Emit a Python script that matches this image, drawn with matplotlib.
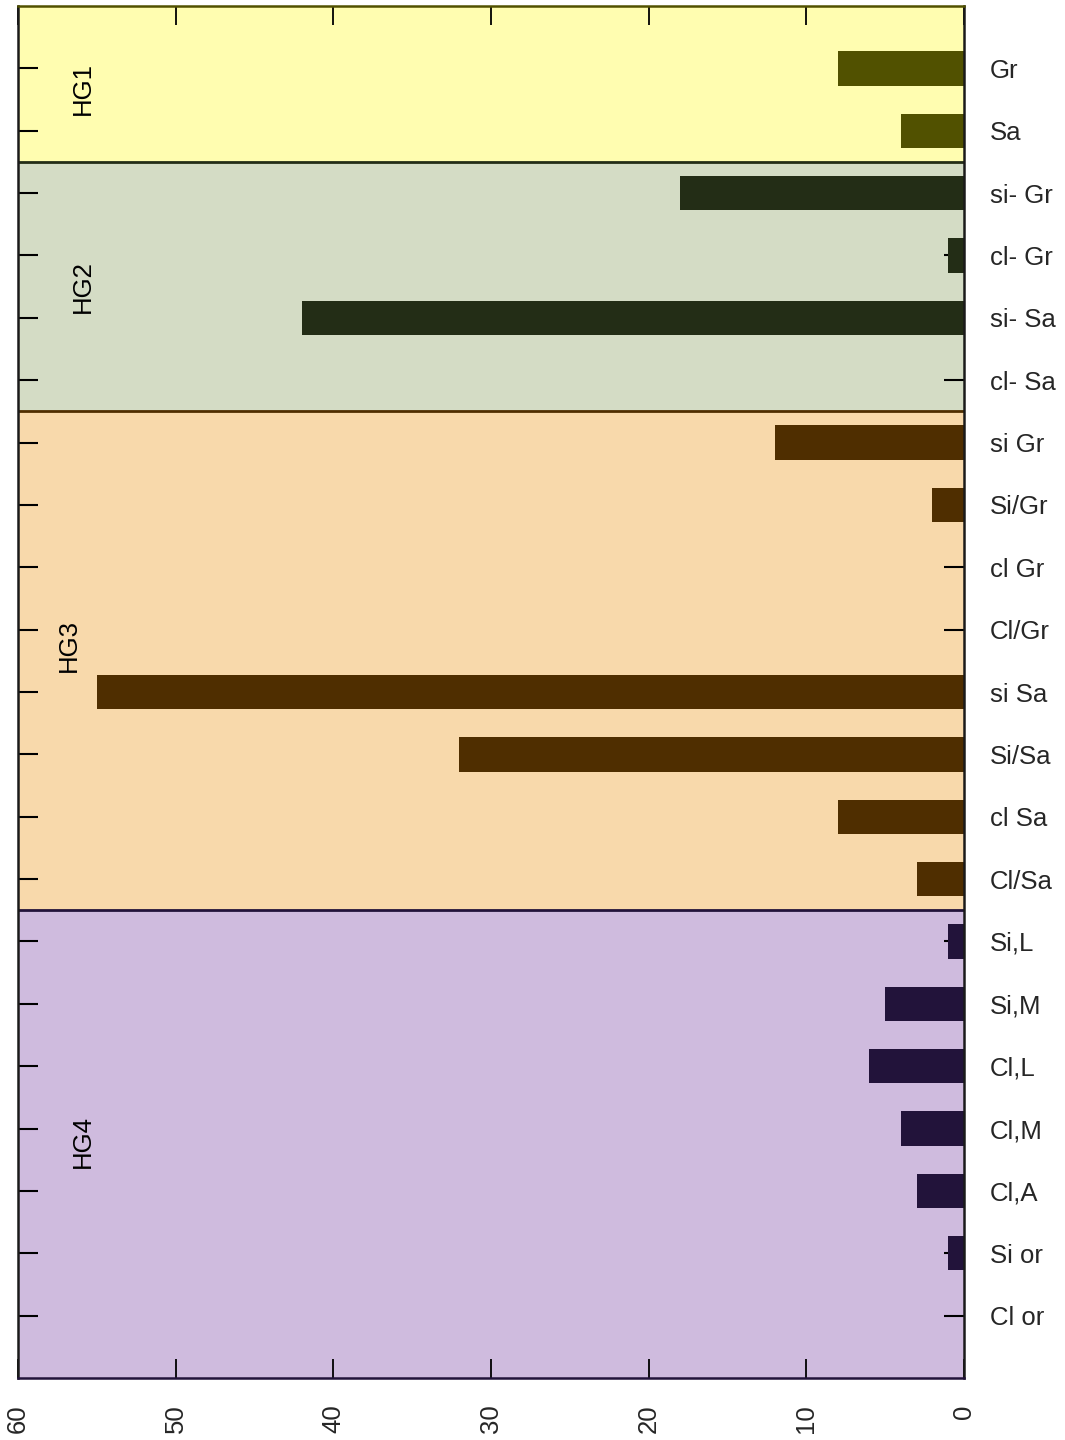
import matplotlib
matplotlib.use("Agg")
import matplotlib.pyplot as plt
from matplotlib.patches import Rectangle

plt.rcParams['font.family'] = ['Liberation Sans', 'DejaVu Sans']

# Soil texture classes, top to bottom
categories = ["Gr", "Sa", "si- Gr", "cl- Gr", "si- Sa", "cl- Sa",
              "si Gr", "Si/Gr", "cl Gr", "Cl/Gr", "si Sa", "Si/Sa", "cl Sa", "Cl/Sa",
              "Si,L", "Si,M", "Cl,L", "Cl,M", "Cl,A", "Si or", "Cl or"]
counts = [8, 4, 18, 1, 42, 0,
          12, 2, 0, 0, 55, 32, 8, 3,
          1, 5, 6, 4, 3, 1, 0]

# Hydrogeological groups: name, number of classes, bar colour, background
group_names = ["HG1", "HG2", "HG3", "HG4"]
group_sizes = [2, 4, 8, 7]
group_bar_colors = ["#515100", "#232D16", "#4F2E00", "#22133A"]
group_bg_colors = ["#FFFDB0", "#D4DCC5", "#F8D9AB", "#CFBBDE"]
group_label_x = [55.9, 55.9, 56.8, 55.9]
group_label_y = [0.32, 3.5, 9.25, 17.2]

xticks = [0, 10, 20, 30, 40, 50, 60]

fig = plt.figure(figsize=(10.65, 14.4), dpi=100)
ax = fig.add_axes([18 / 1065, 1 - 1378 / 1440, (964 - 18) / 1065, (1378 - 6) / 1440])

y_top, y_bot = -1.0, 21.0
ax.set_xlim(60, 0)
ax.set_ylim(y_bot, y_top)

# Group backgrounds, bars and boundaries
start = 0
bar_colors = []
for gi, n in enumerate(group_sizes):
    lo = start - 0.5 if gi > 0 else y_top
    hi = start + n - 0.5 if gi < len(group_sizes) - 1 else y_bot
    ax.add_patch(Rectangle((60, lo), -60, hi - lo, facecolor=group_bg_colors[gi],
                           edgecolor='none', zorder=0))
    bar_colors += [group_bar_colors[gi]] * n
    ax.text(group_label_x[gi], group_label_y[gi], group_names[gi], rotation=90,
            ha='center', va='center', fontsize=18.5, color='black', zorder=4)
    if gi > 0:
        ax.axhline(lo, color=group_bar_colors[gi], lw=2.0, zorder=3)
    start += n

positions = list(range(len(categories)))
ax.barh(positions, counts, height=0.55, color=bar_colors, zorder=2)

# Axes decoration
ax.set_yticks(positions)
ax.set_yticklabels(categories)
ax.set_xticks(xticks)
ax.set_xticklabels([str(t) for t in xticks], rotation=90)
ax.tick_params(axis='y', left=True, right=True, labelleft=False, labelright=True,
               direction='in', length=14.5, width=1.5, pad=18.5, labelsize=18.5,
               labelcolor='#262626')
ax.tick_params(axis='x', top=True, bottom=True, labeltop=False, labelbottom=True,
               direction='in', length=14, width=1.3, pad=19, labelsize=18.5,
               labelcolor='#262626')

for tick, c in zip(ax.yaxis.get_major_ticks(), bar_colors):
    tick.tick1line.set_color(c)
    tick.tick2line.set_color(c)
for tick in ax.xaxis.get_major_ticks():
    tick.tick1line.set_color(group_bar_colors[-1])
    tick.tick2line.set_color(group_bar_colors[0])

ax.spines['top'].set_color(group_bar_colors[0])
ax.spines['bottom'].set_color(group_bar_colors[-1])
ax.spines['left'].set_color('#1a1a1a')
ax.spines['right'].set_color('#1a1a1a')
for s in ax.spines.values():
    s.set_linewidth(1.8)
    s.set_zorder(5)

fig.savefig("out.png", dpi=100, facecolor='white')
